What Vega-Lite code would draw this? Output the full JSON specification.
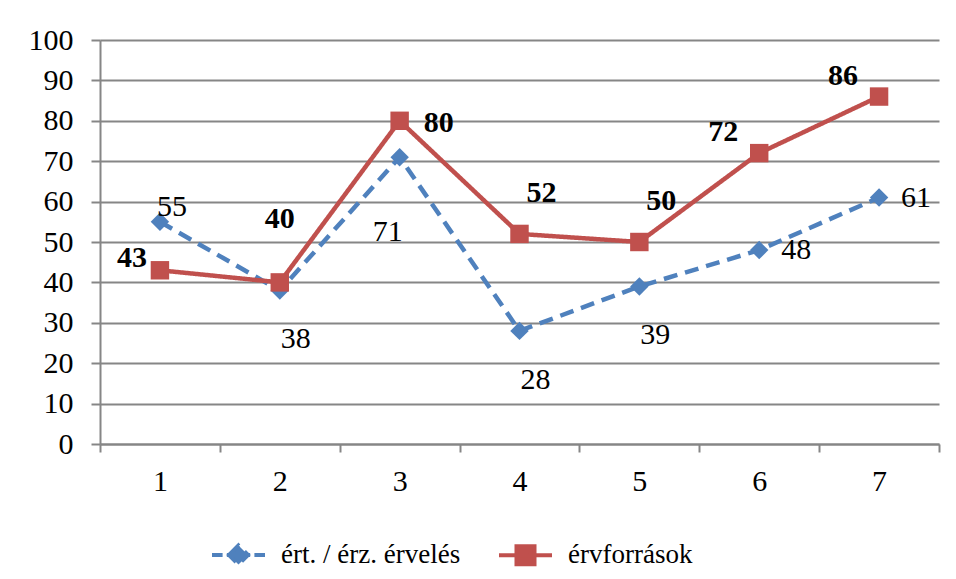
{
  "$schema": "https://vega.github.io/schema/vega-lite/v6.json",
  "width": 839,
  "height": 404,
  "autosize": {"type": "none"},
  "padding": {"left": 100, "top": 40, "right": 17, "bottom": 135},
  "background": "white",
  "config": {
    "view": {"stroke": null},
    "font": "Liberation Serif",
    "text": {"font": "Liberation Serif"},
    "axis": {"labelFont": "Liberation Serif", "labelColor": "black", "labelFontSize": 30, "domainColor": "#868686", "domainWidth": 2, "tickColor": "#868686", "tickWidth": 2, "gridColor": "#868686", "gridWidth": 2, "title": null},
    "legend": {"labelFont": "Liberation Serif", "labelFontSize": 27, "labelColor": "black", "labelLimit": 500}
  },
  "data": {"values": [
    {"x": 1, "series": "ért. / érz. érvelés", "value": 55},
    {"x": 2, "series": "ért. / érz. érvelés", "value": 38},
    {"x": 3, "series": "ért. / érz. érvelés", "value": 71},
    {"x": 4, "series": "ért. / érz. érvelés", "value": 28},
    {"x": 5, "series": "ért. / érz. érvelés", "value": 39},
    {"x": 6, "series": "ért. / érz. érvelés", "value": 48},
    {"x": 7, "series": "ért. / érz. érvelés", "value": 61},
    {"x": 1, "series": "érvforrások", "value": 43},
    {"x": 2, "series": "érvforrások", "value": 40},
    {"x": 3, "series": "érvforrások", "value": 80},
    {"x": 4, "series": "érvforrások", "value": 52},
    {"x": 5, "series": "érvforrások", "value": 50},
    {"x": 6, "series": "érvforrások", "value": 72},
    {"x": 7, "series": "érvforrások", "value": 86}
  ]},
  "encoding": {
    "x": {"field": "x", "type": "ordinal", "scale": {"type": "band", "paddingInner": 0, "paddingOuter": 0},
          "axis": {"labelAngle": 0, "tickBand": "extent", "tickSize": 8, "labelPadding": 14, "domain": true, "grid": false}},
    "y": {"field": "value", "type": "quantitative", "scale": {"domain": [0, 100], "nice": false},
          "axis": {"values": [0,10,20,30,40,50,60,70,80,90,100], "tickSize": 9, "labelPadding": 18, "grid": true, "domain": true}}
  },
  "layer": [
    {
      "mark": {"type": "line", "strokeWidth": 4.5},
      "encoding": {
        "color": {"field": "series", "type": "nominal",
                  "scale": {"domain": ["ért. / érz. érvelés", "érvforrások"], "range": ["#4F81BD", "#C0504D"]},
                  "legend": {"title": null, "orient": "none", "direction": "horizontal", "legendX": 110, "legendY": 486,
                             "symbolSize": 2809, "symbolStrokeWidth": 4, "labelOffset": 14, "columnPadding": 30,
                             "encode": {"symbols": {"update": {
                               "shape": {"signal": "datum.value === 'érvforrások' ? 'M-1,0H1M-0.34,-0.34H0.34V0.34H-0.34Z' : 'M-1,0H-0.6M-0.44,0H0.44M0.6,0H1M-0.36,0L0,-0.36L0.36,0L0,0.36Z'"},
                               "fill": {"signal": "datum.value === 'érvforrások' ? '#C0504D' : '#4F81BD'"},
                               "stroke": {"signal": "datum.value === 'érvforrások' ? '#C0504D' : '#4F81BD'"},
                               "strokeWidth": {"value": 4},
                               "strokeDash": {"value": [1, 0]},
                               "opacity": {"value": 1}
                             }}}}},
        "strokeDash": {"field": "series", "type": "nominal", "scale": {"domain": ["ért. / érz. érvelés", "érvforrások"], "range": [[14, 8], [1, 0]]}, "legend": null}
      }
    },
    {
      "transform": [{"filter": {"field": "series", "equal": "ért. / érz. érvelés"}}],
      "mark": {"type": "point", "filled": true, "opacity": 1, "shape": "diamond", "size": 340, "color": "#4F81BD"},
      "encoding": {}
    },
    {
      "transform": [{"filter": {"field": "series", "equal": "érvforrások"}}],
      "mark": {"type": "point", "filled": true, "opacity": 1, "shape": "square", "size": 340, "color": "#C0504D"},
      "encoding": {}
    },
    {
      "transform": [{"filter": {"and": [{"field": "series", "equal": "ért. / érz. érvelés"}, {"field": "x", "oneOf": [6, 7]}]}}],
      "mark": {"type": "text", "font": "Liberation Serif", "fontSize": 30, "dx": 37, "dy": 0, "baseline": "middle"},
      "encoding": {"text": {"field": "value", "type": "quantitative"}}
    },
    {
      "transform": [{"filter": {"and": [{"field": "series", "equal": "ért. / érz. érvelés"}, {"field": "x", "oneOf": [2, 4, 5]}]}}],
      "mark": {"type": "text", "font": "Liberation Serif", "fontSize": 30, "dx": 16, "dy": 49, "baseline": "middle"},
      "encoding": {"text": {"field": "value", "type": "quantitative"}}
    },
    {
      "transform": [{"filter": {"and": [{"field": "series", "equal": "ért. / érz. érvelés"}, {"field": "x", "oneOf": [1]}]}}],
      "mark": {"type": "text", "font": "Liberation Serif", "fontSize": 30, "dx": 12, "dy": -15, "baseline": "middle"},
      "encoding": {"text": {"field": "value", "type": "quantitative"}}
    },
    {
      "transform": [{"filter": {"and": [{"field": "series", "equal": "ért. / érz. érvelés"}, {"field": "x", "oneOf": [3]}]}}],
      "mark": {"type": "text", "font": "Liberation Serif", "fontSize": 30, "dx": -12, "dy": 75, "baseline": "middle"},
      "encoding": {"text": {"field": "value", "type": "quantitative"}}
    },
    {
      "transform": [{"filter": {"and": [{"field": "series", "equal": "érvforrások"}, {"field": "x", "oneOf": [3]}]}}],
      "mark": {"type": "text", "font": "Liberation Serif", "fontSize": 30, "fontWeight": "bold", "dx": 39, "dy": 2, "baseline": "middle"},
      "encoding": {"text": {"field": "value", "type": "quantitative"}}
    },
    {
      "transform": [{"filter": {"and": [{"field": "series", "equal": "érvforrások"}, {"field": "x", "oneOf": [4, 5]}]}}],
      "mark": {"type": "text", "font": "Liberation Serif", "fontSize": 30, "fontWeight": "bold", "dx": 22, "dy": -41, "baseline": "middle"},
      "encoding": {"text": {"field": "value", "type": "quantitative"}}
    },
    {
      "transform": [{"filter": {"and": [{"field": "series", "equal": "érvforrások"}, {"field": "x", "oneOf": [2]}]}}],
      "mark": {"type": "text", "font": "Liberation Serif", "fontSize": 30, "fontWeight": "bold", "dx": 0, "dy": -63, "baseline": "middle"},
      "encoding": {"text": {"field": "value", "type": "quantitative"}}
    },
    {
      "transform": [{"filter": {"and": [{"field": "series", "equal": "érvforrások"}, {"field": "x", "oneOf": [6, 7]}]}}],
      "mark": {"type": "text", "font": "Liberation Serif", "fontSize": 30, "fontWeight": "bold", "dx": -36, "dy": -21, "baseline": "middle"},
      "encoding": {"text": {"field": "value", "type": "quantitative"}}
    },
    {
      "transform": [{"filter": {"and": [{"field": "series", "equal": "érvforrások"}, {"field": "x", "oneOf": [1]}]}}],
      "mark": {"type": "text", "font": "Liberation Serif", "fontSize": 30, "fontWeight": "bold", "dx": -28, "dy": -12, "baseline": "middle"},
      "encoding": {"text": {"field": "value", "type": "quantitative"}}
    }
  ]
}
